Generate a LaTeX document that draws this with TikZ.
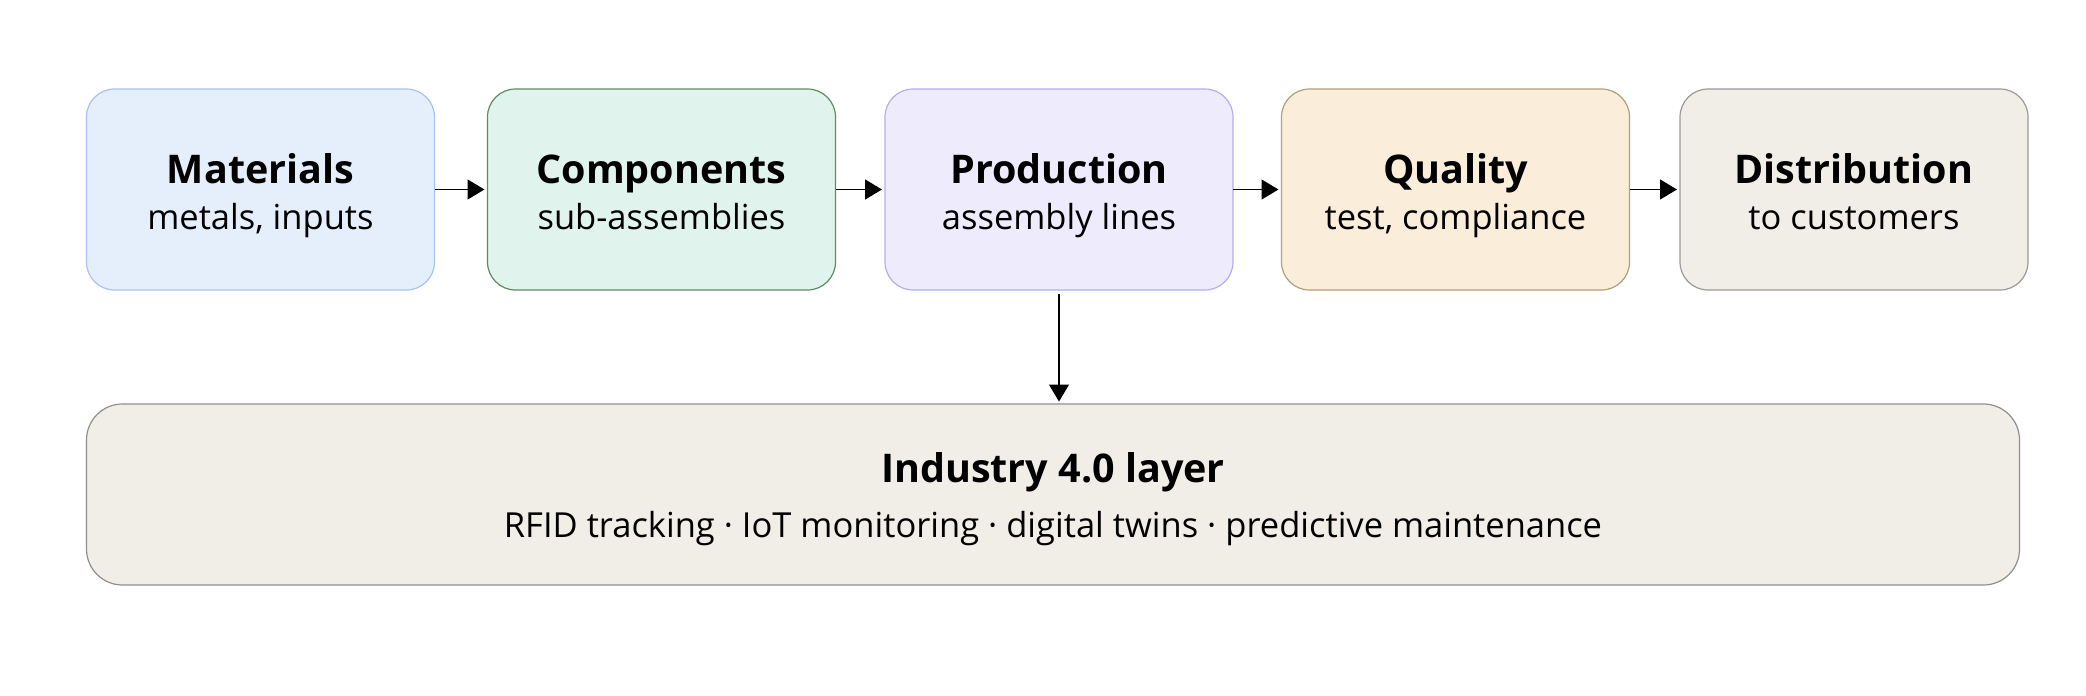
\documentclass[tikz,border=0pt]{standalone}
\usepackage{fontspec}
\setmainfont{Open Sans}
\usetikzlibrary{arrows.meta}
\definecolor{matfill}{HTML}{E5EFFB}
\definecolor{matline}{HTML}{A8C3F2}
\definecolor{comfill}{HTML}{E0F3EC}
\definecolor{comline}{HTML}{5E8C62}
\definecolor{profill}{HTML}{EDEBFC}
\definecolor{proline}{HTML}{B4AEF0}
\definecolor{qualfill}{HTML}{FAEDD9}
\definecolor{qualline}{HTML}{B0A078}
\definecolor{disfill}{HTML}{F1EEE7}
\definecolor{disline}{HTML}{9C9A98}
\definecolor{layline}{HTML}{8F8F8F}
\begin{document}
\begin{tikzpicture}[x=1pt,y=1pt,
  box/.style={draw, rounded corners=28pt, line width=1.2pt, minimum width=348pt, minimum height=201pt, inner sep=0pt, outer sep=0pt, anchor=north west},
  ttl/.style={font=\fontsize{39.5}{48}\selectfont\bfseries, anchor=base, inner sep=0pt},
  sub/.style={font=\fontsize{34.5}{40}\selectfont, anchor=base, inner sep=0pt},
  flow/.style={-{Triangle[length=17pt,width=20pt]}, line width=1.4pt}]
\useasboundingbox (0,0) rectangle (2086,-696);
\node[box, fill=matfill, draw=matline] (mat) at (86.5,-89) {};
\node[box, fill=comfill, draw=comline] (com) at (487.5,-89) {};
\node[box, fill=profill, draw=proline] (pro) at (885,-89) {};
\node[box, fill=qualfill, draw=qualline] (qual) at (1281.5,-89) {};
\node[box, fill=disfill, draw=disline] (dis) at (1680,-89) {};
\node[box, fill=disfill, draw=layline, rounded corners=36pt, minimum width=1933pt, minimum height=181pt] (lay) at (86.5,-404) {};

\node[ttl, yshift=6.5pt] (matt) at (mat.center) {Materials};
\node[sub, yshift=-39.5pt] (mats) at (mat.center) {metals, inputs};
\node[ttl, yshift=6.5pt] (comt) at (com.center) {Components};
\node[sub, yshift=-39.5pt] (coms) at (com.center) {sub-assemblies};
\node[ttl, yshift=6.5pt] (prot) at (pro.center) {Production};
\node[sub, yshift=-39.5pt] (pros) at (pro.center) {assembly lines};
\node[ttl, yshift=6.5pt] (qualt) at (qual.center) {Quality};
\node[sub, yshift=-39.5pt] (quals) at (qual.center) {test, compliance};
\node[ttl, yshift=6.5pt] (dist) at (dis.center) {Distribution};
\node[sub, yshift=-39.5pt] (diss) at (dis.center) {to customers};
\node[ttl, yshift=11.8pt] (layt) at (lay.center) {Industry 4.0 layer};
\node[sub, yshift=-43pt] (lays) at (lay.center) {RFID tracking · IoT monitoring · digital twins · predictive maintenance};

\draw[flow, shorten >=3pt] (mat.east) -- (com.west);
\draw[flow, shorten >=3pt] (com.east) -- (pro.west);
\draw[flow, shorten >=3pt] (pro.east) -- (qual.west);
\draw[flow, shorten >=3pt] (qual.east) -- (dis.west);
\draw[flow, shorten <=4pt, shorten >=2.5pt] (pro.south) -- (lay.north -| pro.south);
\end{tikzpicture}
\end{document}
